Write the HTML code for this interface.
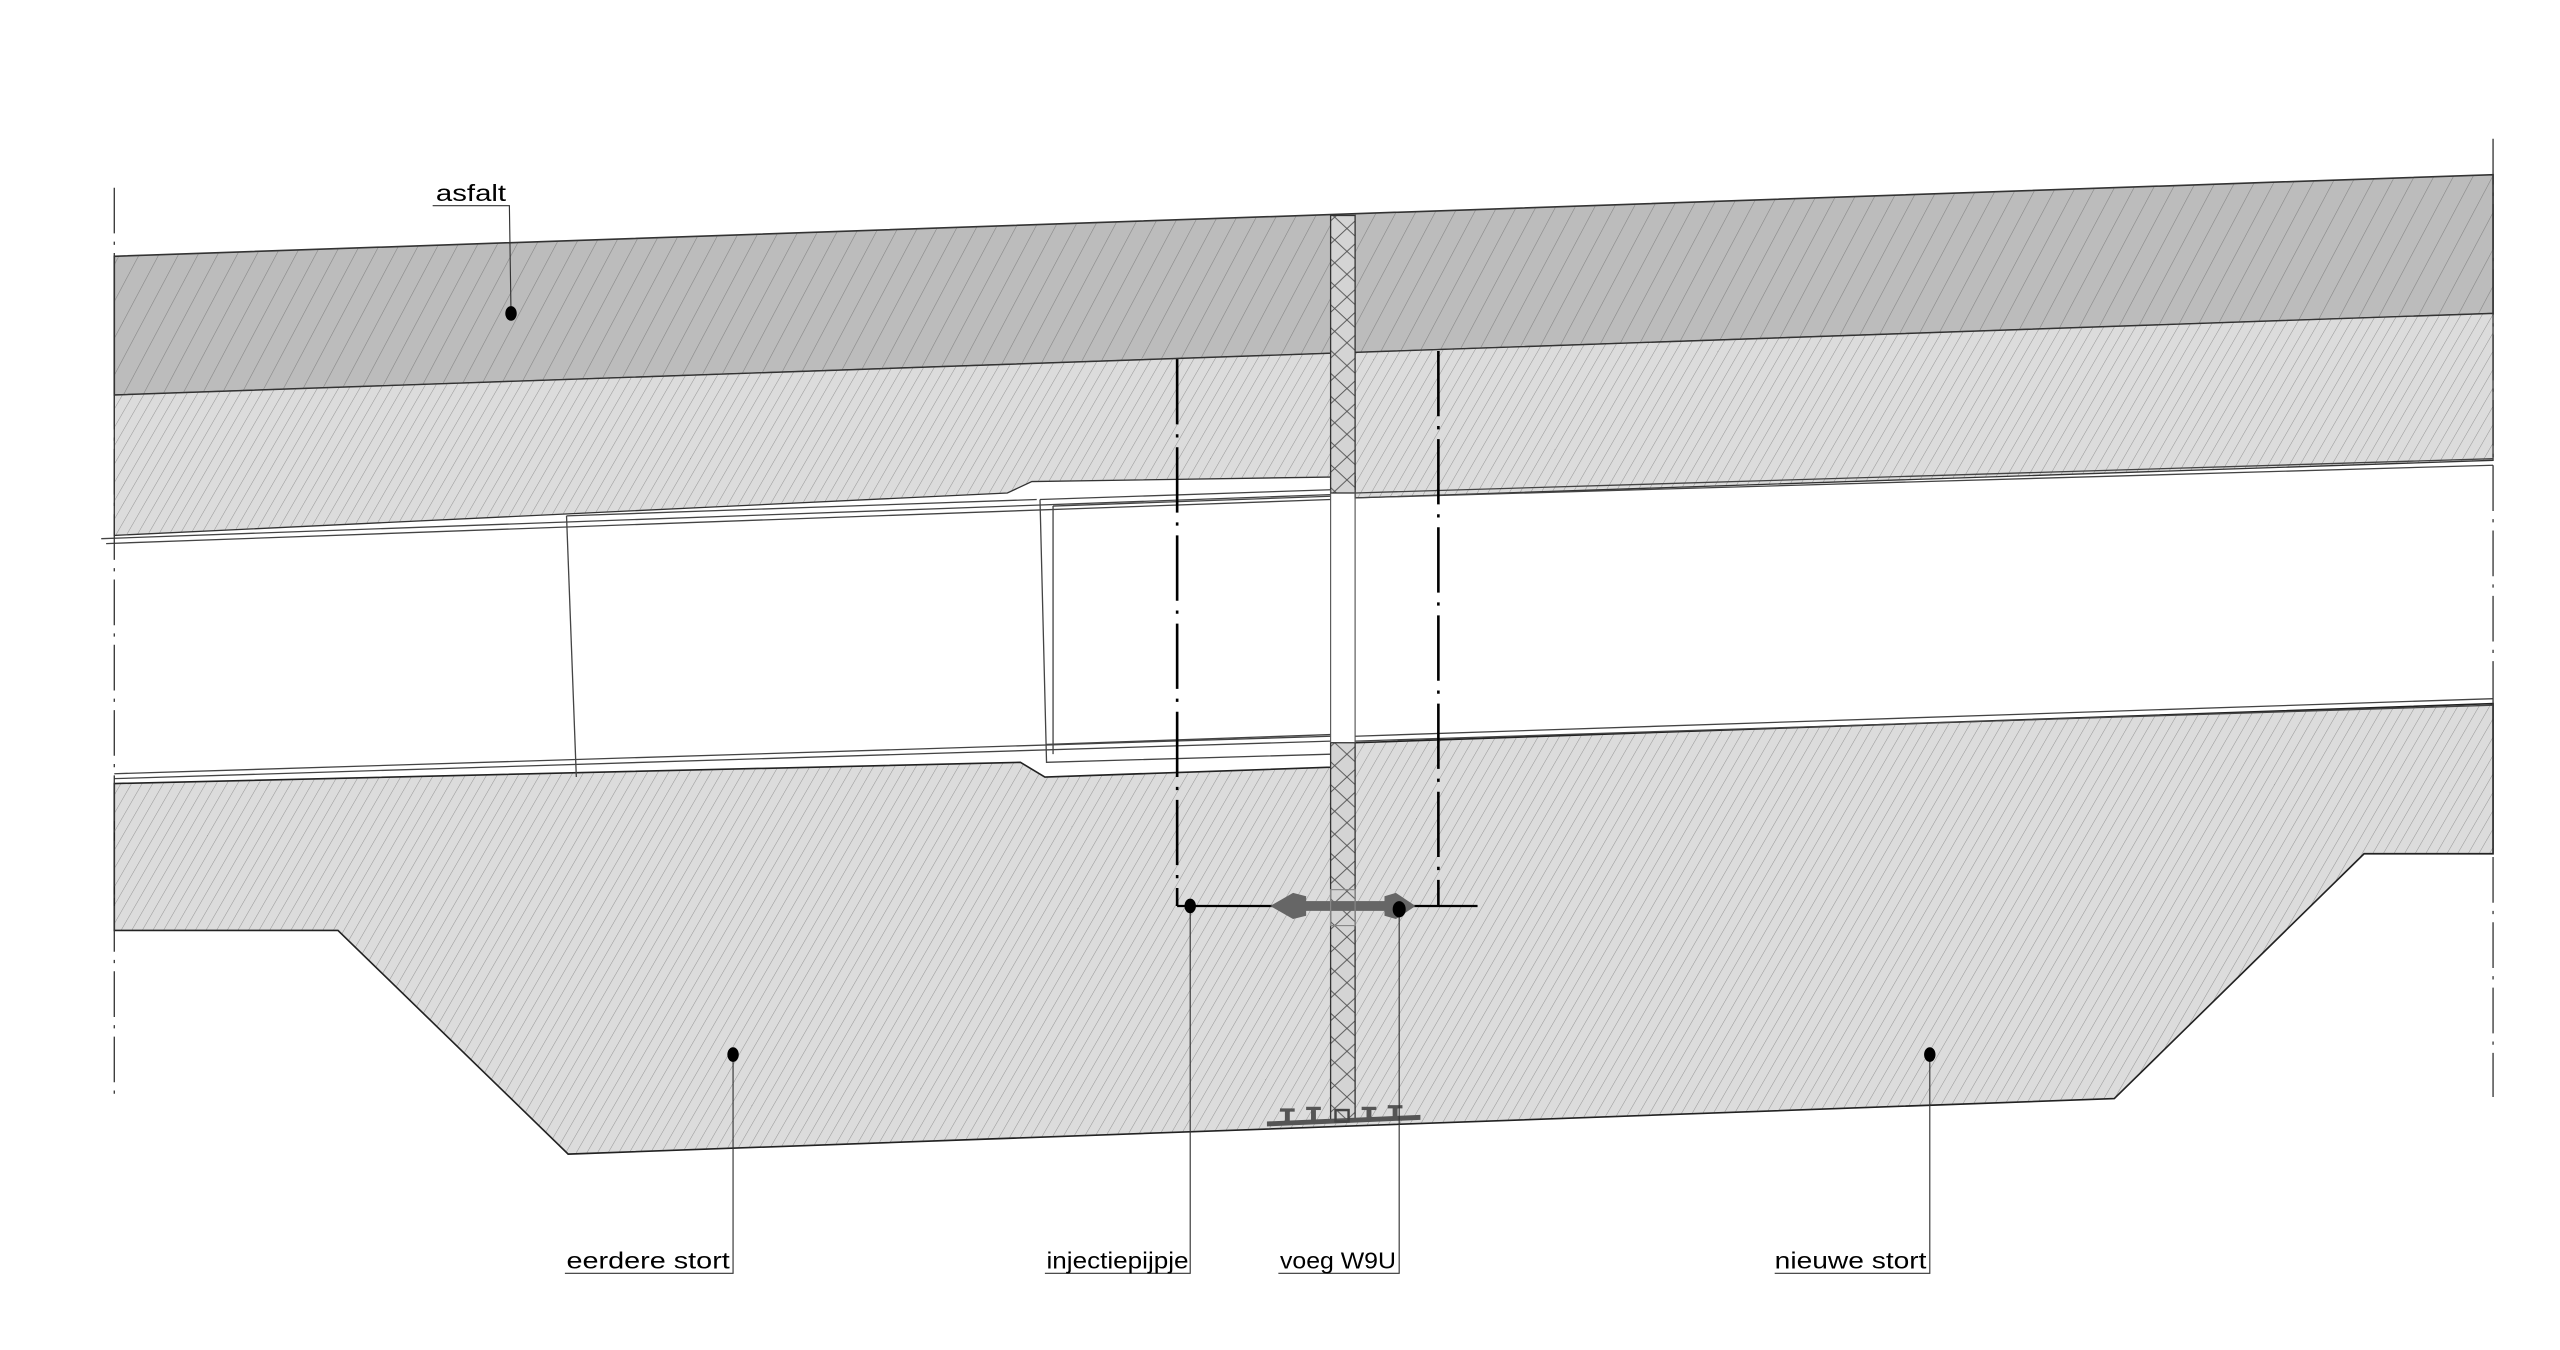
<!DOCTYPE html>
<html><head><meta charset="utf-8"><style>html,body{margin:0;padding:0;background:#fff;}svg{display:block}</style></head>
<body>
<svg width="2560" height="1350" viewBox="0 0 1568 827" preserveAspectRatio="none" xmlns="http://www.w3.org/2000/svg">
<defs>
<pattern id="ha" patternUnits="userSpaceOnUse" width="12" height="24" patternTransform="skewX(-28)">
<rect width="12" height="24" fill="#bcbcbc"/><line x1="0" y1="0" x2="0" y2="24" stroke="#858585" stroke-width="0.8"/></pattern>
<pattern id="hc" patternUnits="userSpaceOnUse" width="6.5" height="24" patternTransform="skewX(-30)">
<rect width="6.5" height="24" fill="#dcdcdc"/><line x1="0" y1="0" x2="0" y2="24" stroke="#949494" stroke-width="0.7"/></pattern>
<pattern id="hx" patternUnits="userSpaceOnUse" width="15" height="14">
<rect width="15" height="14" fill="#d4d4d4"/><path d="M0 0L15 14M15 0L0 14" stroke="#555" stroke-width="0.6"/></pattern>
</defs>
<g font-family="'Liberation Sans Narrow','Liberation Sans',sans-serif" font-size="14" fill="#000">
<polygon points="70,157 1527,107 1527,192 70,242" fill="url(#ha)" stroke="#333" stroke-width="1"/>
<polygon points="70,242 1527,192 1527,282 830,305 830,292 632,295 617,302 70,328" fill="url(#hc)" stroke="#333" stroke-width="0.8"/>
<polygon points="70,480 625,467 640,476 815,470 830,455 1527,431 1527,523 1448,523 1295,673 348,707 207,570 70,570" fill="url(#hc)" stroke="#222" stroke-width="1"/>
<g stroke="#444" stroke-width="0.8" fill="none">
<line x1="62" y1="330" x2="815" y2="303"/><line x1="65" y1="333" x2="815" y2="306"/>
<line x1="830" y1="302" x2="1527" y2="281"/><line x1="830" y1="305" x2="1527" y2="285"/>
<line x1="70" y1="474" x2="815" y2="451"/><line x1="70" y1="477" x2="815" y2="454"/>
<line x1="830" y1="451" x2="1527" y2="428"/><line x1="830" y1="454" x2="1527" y2="432"/>
<polyline points="347,316 353,476"/><line x1="347" y1="316" x2="635" y2="306"/>
<polyline points="637,306 641,467 815,462"/><line x1="637" y1="306" x2="815" y2="300"/>
<line x1="645" y1="310" x2="815" y2="304"/><line x1="645" y1="310" x2="645" y2="462"/>
<line x1="641" y1="456" x2="815" y2="450"/>
</g>
<rect x="815" y="132" width="15" height="170" fill="url(#hx)" stroke="#333" stroke-width="0.8"/>
<rect x="815" y="455" width="15" height="232" fill="url(#hx)" stroke="#333" stroke-width="0.8"/>
<line x1="815" y1="300" x2="815" y2="455" stroke="#555" stroke-width="0.7"/>
<line x1="830" y1="300" x2="830" y2="455" stroke="#555" stroke-width="0.7"/>
<line x1="70" y1="115" x2="70" y2="672" stroke="#333" stroke-width="0.8" stroke-dasharray="28,5,2,5"/>
<line x1="1527" y1="85" x2="1527" y2="672" stroke="#333" stroke-width="0.8" stroke-dasharray="28,5,2,5"/>
<g stroke="#000" stroke-width="1.6" fill="none">
<line x1="721" y1="220" x2="721" y2="555" stroke-dasharray="40,6,2,6"/>
<line x1="881" y1="215" x2="881" y2="555" stroke-dasharray="40,6,2,6"/>
<line x1="721" y1="555" x2="905" y2="555" stroke-width="1.4"/>
</g>
<rect x="790" y="552" width="65" height="6" fill="#666"/>
<path d="M778,555 L792,547 L800,549 L800,561 L792,563 Z" fill="#666"/>
<path d="M867,555 L855,547 L848,549 L848,561 L855,563 Z" fill="#666"/>
<rect x="815" y="545" width="15" height="22" fill="none" stroke="#888" stroke-width="0.7"/>
<path d="M776,690 L870,686 L870,683 L776,687 Z" fill="#555"/>
<g fill="#555"><rect x="787" y="680" width="3" height="8"/><rect x="784" y="679" width="9" height="2"/>
<rect x="803" y="680" width="3" height="7"/><rect x="800" y="678" width="9" height="2"/>
<rect x="837" y="679" width="3" height="7"/><rect x="834" y="678" width="9" height="2"/>
<rect x="853" y="678" width="3" height="8"/><rect x="850" y="677" width="9" height="2"/></g>
<rect x="818" y="680" width="8" height="7" fill="none" stroke="#444" stroke-width="1.5"/>
<g stroke="#333" stroke-width="0.7" fill="none">
<polyline points="265,126 312,126 313,192"/>
<polyline points="346,780 449,780 449,646"/>
<polyline points="640,780 729,780 729,555"/>
<polyline points="783,780 857,780 857,557"/>
<polyline points="1087,780 1182,780 1182,646"/>
</g>
<g fill="#000">
<ellipse cx="313" cy="192" rx="3.5" ry="4.5"/>
<ellipse cx="449" cy="646" rx="3.5" ry="4.5"/>
<ellipse cx="1182" cy="646" rx="3.5" ry="4.5"/>
<ellipse cx="729" cy="555" rx="3.5" ry="4.5"/>
<ellipse cx="857" cy="557" rx="4" ry="5"/>
</g>
<text x="267" y="123" textLength="43" lengthAdjust="spacingAndGlyphs">asfalt</text>
<text x="347" y="777" textLength="100" lengthAdjust="spacingAndGlyphs">eerdere stort</text>
<text x="641" y="777" textLength="87" lengthAdjust="spacingAndGlyphs">injectiepijpje</text>
<text x="784" y="777" textLength="71" lengthAdjust="spacingAndGlyphs">voeg W9U</text>
<text x="1087" y="777" textLength="93" lengthAdjust="spacingAndGlyphs">nieuwe stort</text>
</g>
</svg>
</body></html>
